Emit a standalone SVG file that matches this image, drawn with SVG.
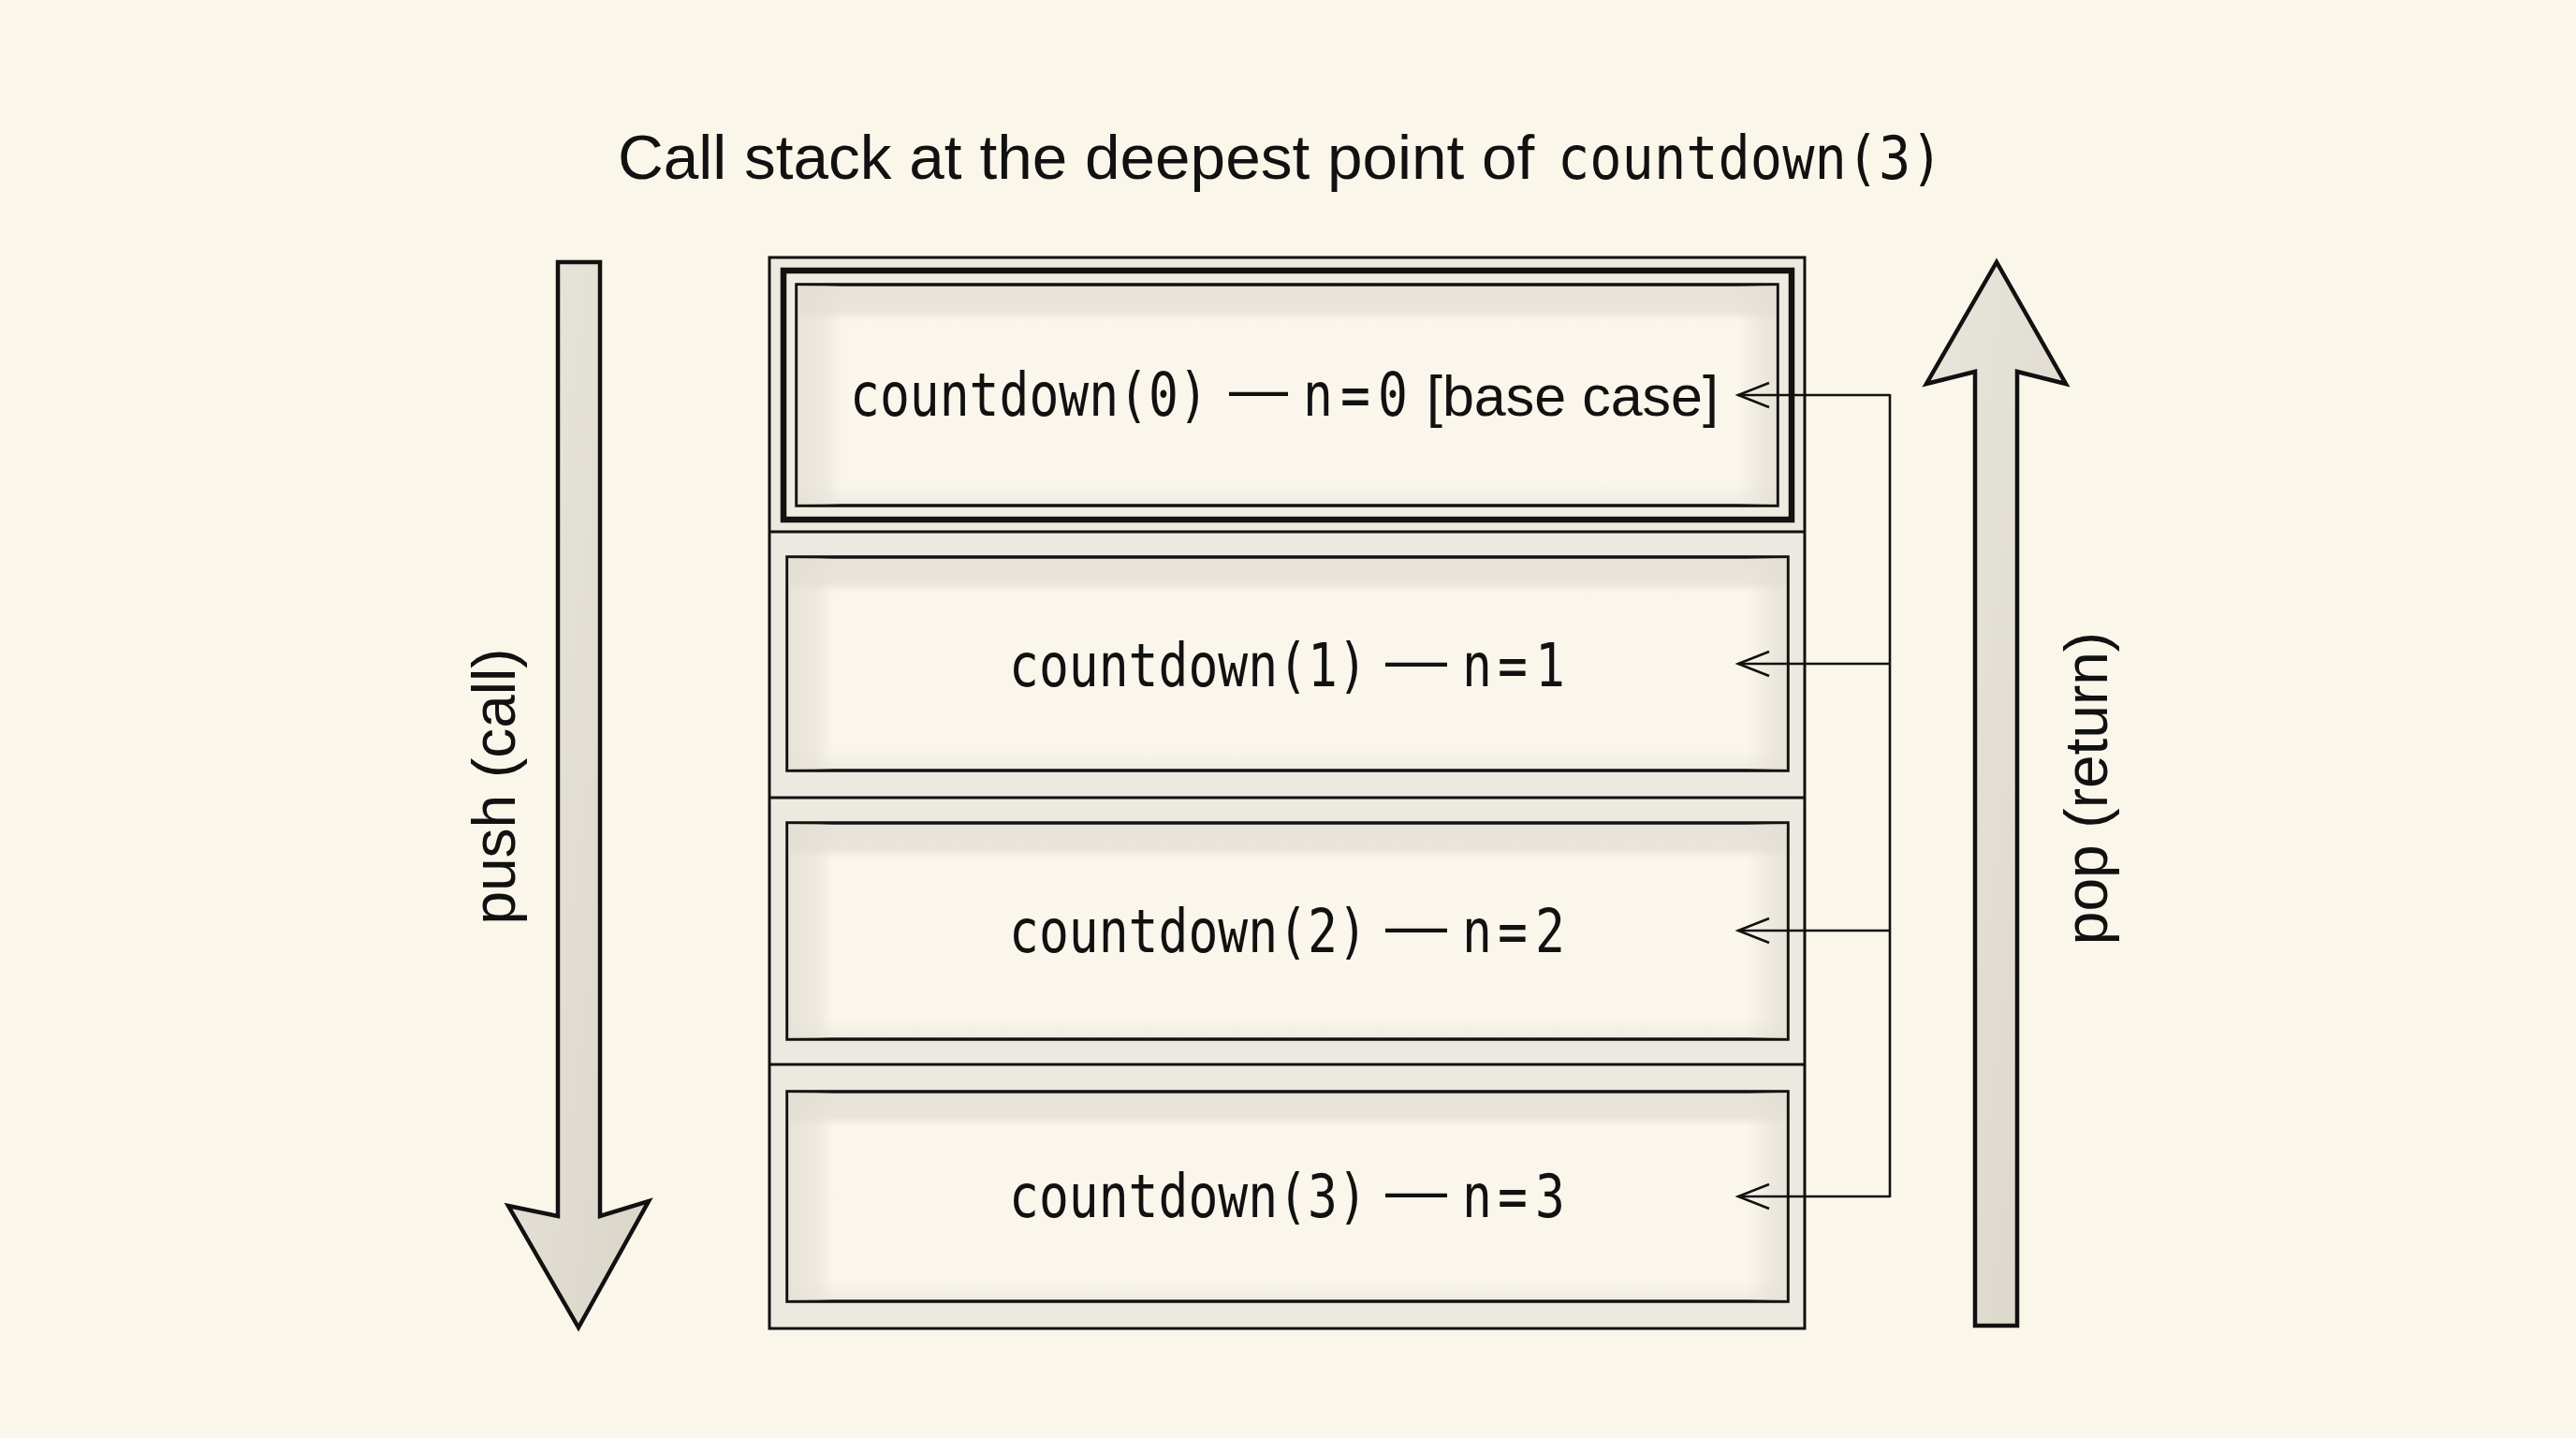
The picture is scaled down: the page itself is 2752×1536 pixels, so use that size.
<svg xmlns="http://www.w3.org/2000/svg" width="2752" height="1536" viewBox="0 0 2752 1536">
  <defs>
    <style>
      .sans { font-family: "Liberation Sans", Arial, sans-serif; }
      .mono { font-family: "DejaVu Sans Mono", "Liberation Mono", monospace; }
      .ink { fill: #111; }
      .frame { fill: #ECE9E0; stroke: #111; stroke-width: 3; }
      .divider { stroke: #111; stroke-width: 3; fill: none; }
      .node { fill: url(#nodeWash); stroke: #111; stroke-width: 3.5; }
      .side { fill: url(#sideWash); stroke: none; }
      .thick { fill: #EEEBE2; stroke: #111; stroke-width: 6.5; }
      .conn { stroke: #111; stroke-width: 2.6; fill: none; }
      .block { fill: url(#arrowWash); stroke: #111; stroke-width: 4.5; stroke-linejoin: miter; }
      .label { font-size: 64px; }
      .code { font-size: 53px; }
      .dash { font-size: 64px; }
    </style>
    <linearGradient id="nodeWash" x1="0" y1="0" x2="0" y2="1">
      <stop offset="0" stop-color="#E6E2D8"/>
      <stop offset="0.12" stop-color="#E9E5DB"/>
      <stop offset="0.165" stop-color="#FAF6EB"/>
      <stop offset="0.9" stop-color="#FAF6EB"/>
      <stop offset="1" stop-color="#EEEBE1"/>
    </linearGradient>
    <linearGradient id="sideWash" x1="0" y1="0" x2="1" y2="0">
      <stop offset="0" stop-color="#E3DFD4" stop-opacity="0.8"/>
      <stop offset="0.03" stop-color="#E3DFD4" stop-opacity="0.5"/>
      <stop offset="0.045" stop-color="#E3DFD4" stop-opacity="0"/>
      <stop offset="0.96" stop-color="#E3DFD4" stop-opacity="0"/>
      <stop offset="0.985" stop-color="#E3DFD4" stop-opacity="0.6"/>
      <stop offset="1" stop-color="#E3DFD4" stop-opacity="0.8"/>
    </linearGradient>
    <linearGradient id="arrowWash" x1="0" y1="0" x2="1" y2="1">
      <stop offset="0" stop-color="#E8E5DB"/>
      <stop offset="0.5" stop-color="#E2DED3"/>
      <stop offset="1" stop-color="#DAD5C9"/>
    </linearGradient>
    <marker id="openHead" markerUnits="userSpaceOnUse" markerWidth="40" markerHeight="34" refX="33" refY="15" orient="auto" viewBox="-2 -2 40 34">
      <path d="M0,2 L33,15 L0,28" fill="none" stroke="#111" stroke-width="2.6"/>
    </marker>
  </defs>

  <rect x="0" y="0" width="2752" height="1536" fill="#FBF6EA"/>

  <g id="title">
    <text x="660" y="191" class="sans ink" font-size="67.5">Call stack at the deepest point of</text>
    <text x="1664" y="170.5" transform="scale(1,1.12)" class="mono ink" font-size="57">countdown(3)</text>
  </g>

  <g id="stack">
    <rect class="frame" x="822" y="275" width="1106" height="1144"/>
    <line class="divider" x1="822" y1="568" x2="1928" y2="568"/>
    <line class="divider" x1="822" y1="852" x2="1928" y2="852"/>
    <line class="divider" x1="822" y1="1137" x2="1928" y2="1137"/>
  </g>

  <g id="frame0">
    <rect class="thick" x="837" y="289" width="1077" height="266"/>
    <rect class="node" x="851" y="304" width="1048" height="236"/>
    <rect class="side" x="852" y="305" width="1046" height="234"/>
    <text x="908" y="370" transform="scale(1,1.2)" class="mono code ink">countdown(0)</text>
    <text x="1313" y="437" class="sans dash ink" textLength="63" lengthAdjust="spacingAndGlyphs">—</text>
    <text x="1392 1432 1472" y="370" transform="scale(1,1.2)" class="mono code ink">n=0</text>
    <text x="1524" y="444" class="sans ink" font-size="61">[base case]</text>
  </g>

  <g id="frame1">
    <rect class="node" x="841" y="595" width="1069" height="228"/>
    <rect class="side" x="842" y="596" width="1067" height="226"/>
    <text x="1078" y="610.83" transform="scale(1,1.2)" class="mono code ink">countdown(1)</text>
    <text x="1480" y="726" class="sans dash ink" textLength="66" lengthAdjust="spacingAndGlyphs">—</text>
    <text x="1562 1600 1640" y="610.83" transform="scale(1,1.2)" class="mono code ink">n=1</text>
  </g>

  <g id="frame2">
    <rect class="node" x="841" y="879" width="1069" height="231"/>
    <rect class="side" x="842" y="880" width="1067" height="229"/>
    <text x="1078" y="847.5" transform="scale(1,1.2)" class="mono code ink">countdown(2)</text>
    <text x="1480" y="1010" class="sans dash ink" textLength="66" lengthAdjust="spacingAndGlyphs">—</text>
    <text x="1562 1600 1640" y="847.5" transform="scale(1,1.2)" class="mono code ink">n=2</text>
  </g>

  <g id="frame3">
    <rect class="node" x="841" y="1166" width="1069" height="224"/>
    <rect class="side" x="842" y="1167" width="1067" height="222"/>
    <text x="1078" y="1083.33" transform="scale(1,1.2)" class="mono code ink">countdown(3)</text>
    <text x="1480" y="1293" class="sans dash ink" textLength="66" lengthAdjust="spacingAndGlyphs">—</text>
    <text x="1562 1600 1640" y="1083.33" transform="scale(1,1.2)" class="mono code ink">n=3</text>
  </g>

  <g id="push">
    <path class="block" d="M596,280 L641,280 L641,1299 L693,1283 L618,1418 L543,1288 L596,1299 Z"/>
    <text x="550" y="840" text-anchor="middle" transform="rotate(-90 550 840)" class="sans label ink">push (call)</text>
  </g>

  <g id="pop">
    <path class="block" d="M2110,1416 L2155,1416 L2155,397 L2207,410 L2133,280 L2058,410 L2110,397 Z"/>
    <text x="2251" y="842" text-anchor="middle" transform="rotate(-90 2251 842)" class="sans label ink">pop (return)</text>
  </g>

  <g id="connectors">
    <line class="conn" x1="2019" y1="421" x2="2019" y2="1279"/>
    <line class="conn" x1="2019" y1="422" x2="1857" y2="422" marker-end="url(#openHead)"/>
    <line class="conn" x1="2019" y1="709" x2="1857" y2="709" marker-end="url(#openHead)"/>
    <line class="conn" x1="2019" y1="994" x2="1857" y2="994" marker-end="url(#openHead)"/>
    <line class="conn" x1="2019" y1="1278" x2="1857" y2="1278" marker-end="url(#openHead)"/>
  </g>
</svg>
